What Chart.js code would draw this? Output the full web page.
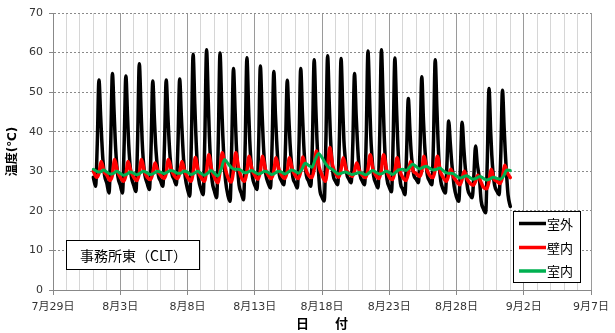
<!DOCTYPE html>
<html><head><meta charset="utf-8">
<script src="https://cdn.jsdelivr.net/npm/chart.js@4.4.1/dist/chart.umd.min.js"></script>
<style>html,body{margin:0;padding:0;background:#fff;}</style>
</head><body>
<canvas id="c" width="615" height="333"></canvas>
<script>
// x axis: day index, 0 = 7月29日 ; major tick every 5 days
const X_TICK_LABELS = ['7月29日','8月3日','8月8日','8月13日','8月18日','8月23日','8月28日','9月2日','9月7日'];
const Y_TICKS = [0,10,20,30,40,50,60,70];
const SERIES_NAMES = ['室外','壁内','室内'];
const ANNOTATION = '事務所東（CLT）';
const FIRST_DAY = 3; // 8月1日
// 室外 : readings per day (8/1 .. 8/31) at these hours
const HOURS_OUT = [0,4,7,10,13,15,17,20];
const outdoor = [
 [28.5,26.2,37,53.1,44,38,33,29],
 [27,24.5,37,54.7,45,38,33,28.5],
 [26.5,24.5,37,54.1,44,37,32.5,28.5],
 [26.5,24.9,38,57.2,46,38,33,29],
 [27,25.4,36,52.8,43,37,33,29],
 [27.5,26.2,37,53.1,44,38,33.5,29.5],
 [28,26.6,37,53.3,44,38,33,28.5],
 [25.5,23.7,38,59.6,47,39,33,28],
 [25.5,24.1,39,60.7,48,39,33,27.5],
 [25,23.3,38,59.9,47,39,33,27.5],
 [24,22.4,37,56,45,37,32,26.5],
 [24.5,22.8,37,58.7,46,38,33,28.5],
 [26.5,25.4,37,56.6,45,38,33,29],
 [27,25.8,37,55.2,44,38,33,29],
 [27.5,26.6,37,53,43,37,33,28.5],
 [27,25.8,37,56,45,38,33,29],
 [27.5,26.2,38,58.2,46,38,32,25.5],
 [23.5,22.5,38,59.2,47,39,34,29],
 [27.5,26.6,38,58.5,46,38,34,29.5],
 [28,27.1,37,54.7,44,38,33,29],
 [27.5,26.6,39,60.4,48,39,34,29],
 [27,25.8,39,60.7,48,39,33,28],
 [26,24.8,38,58.6,46,38,32,27],
 [25.5,24.1,35,48.4,40,35,32,29],
 [28,27.1,36,53.9,43,37,33,29],
 [27.5,26.6,38,58.2,46,38,32,27.5],
 [25.5,24.5,32,42.7,37,33,30,26],
 [23.5,22.4,31,42.4,36,32,29,25.5],
 [24,23.3,29,36.4,32,30,28,22.5],
 [20.5,19.5,33,50.9,40,34,30,26.5],
 [25,24.1,34,50.5,41,35,30,24]
];
// 壁内
const HOURS_WALL = [0,6,10,14,19];
const wall = [
 [30,28.5,29.5,32.5,30],
 [29,27.7,29,33,30],
 [28.5,27.5,29,32.5,30],
 [28.5,27.7,29.5,33,30],
 [28.5,27.9,29.5,32.1,30],
 [29,28.2,29.5,33,30.5],
 [29,28.2,29.5,32.5,30],
 [28.5,27.5,29.5,33.5,30],
 [28.5,27.5,30,34.2,30.5],
 [28.5,27.1,30,34.7,31],
 [28.5,27.3,30,34.7,31],
 [28.5,27.5,30,33.8,30.5],
 [29,28,30,33.8,30.5],
 [29,28.2,30,33.4,30.5],
 [29,28.2,30,33.4,30.5],
 [29,28.2,30,33.6,30.5],
 [29,28.4,30.5,35.1,31],
 [29,27.5,31,36,31.5],
 [29.5,28.5,30.5,33.4,30.5],
 [29.5,28.7,30,32.1,30],
 [29,28.4,30.5,34.2,30.5],
 [29,28.2,30.5,34.2,30.5],
 [28.5,27.9,30,33.4,30],
 [28.5,27.7,29.5,32.5,30],
 [29.5,28.7,30,33.8,30.5],
 [29,28.4,30.5,33.8,30],
 [28.5,27.5,29,30.5,28.5],
 [27.5,26.6,28,30,28],
 [27,26.5,27.5,29,27.5],
 [26,25.6,27.5,30.5,28],
 [27.5,26.9,28.5,31.5,29.5]
];
// 室内
const HOURS_ROOM = [0,6,12,18];
const room = [
 [30.5,30,29.8,30.3],
 [29.8,29.3,29.5,30],
 [29.5,29,29.3,29.8],
 [29.5,29.1,29.6,30],
 [29.6,29.2,29.5,30],
 [29.8,29.4,29.8,30.2],
 [30,29.5,29.5,30.1],
 [29.8,29.2,29.5,30],
 [29.5,29,29.5,30.2],
 [29.5,28.8,30.5,33],
 [32,31,30.5,30.5],
 [30.2,29.6,29.8,30.2],
 [29.8,29.3,29.6,30],
 [29.7,29.2,29.5,30],
 [29.8,29.3,29.8,30.3],
 [30,29.5,30.5,32],
 [31.5,31,33,34.5],
 [33.5,32,31,30.5],
 [29.8,29.3,29.6,29.8],
 [29.5,29.2,29.4,29.7],
 [29.5,29.1,29.6,30.2],
 [29.8,29.3,29.5,30],
 [29.7,29.2,29.8,30.4],
 [30.5,30.2,31,31.8],
 [31.2,30.6,31,31.3],
 [30.8,30.3,30.5,30.8],
 [30.2,29.6,29.5,29.4],
 [28.8,28.3,28.6,28.9],
 [28.4,28,28.3,28.7],
 [28.2,27.8,28.1,28.5],
 [28.2,28,28.8,30.3]
];
// last reading, 9月1日 0:00 : 室外, 壁内, 室内
const FINAL_VALUES = [21.1, 28.4, 30.2];

function toPoints(rows, hours, last){
  const pts = [];
  rows.forEach((row, d) => row.forEach((v, i) => pts.push({x: FIRST_DAY + d + hours[i]/24, y: v})));
  pts.push({x: FIRST_DAY + rows.length, y: last});
  return pts;
}

const COLORS = ['#000000','#ff0000','#00b050'];
const FONT = '"DejaVu Sans", "Noto Sans CJK JP", sans-serif';

const boxesPlugin = {
  id: 'boxes',
  afterDraw(chart){
    const {ctx, chartArea: a} = chart;
    ctx.save();
    // annotation box
    const bx = a.left + 13, by = a.top + 227, bw = 133, bh = 29;
    ctx.fillStyle = '#fff'; ctx.fillRect(bx, by, bw, bh);
    ctx.strokeStyle = '#000'; ctx.lineWidth = 1; ctx.strokeRect(bx + 0.5, by + 0.5, bw, bh);
    ctx.fillStyle = '#000'; ctx.font = '14px "Noto Sans CJK JP", sans-serif';
    ctx.textAlign = 'center'; ctx.textBaseline = 'middle';
    ctx.fillText(ANNOTATION, bx + bw/2 + 1, by + bh/2 + 1);
    // legend box
    const lx = a.right - 78, ly = a.top + 198, lw = 67, lh = 71;
    ctx.fillStyle = '#fff'; ctx.fillRect(lx, ly, lw, lh);
    ctx.strokeStyle = '#000'; ctx.strokeRect(lx + 0.5, ly + 0.5, lw, lh);
    ctx.font = '13px "Noto Sans CJK JP", sans-serif';
    ctx.textAlign = 'left';
    const rowsY = [12.5, 36.5, 60];
    chart.data.datasets.forEach((ds, i) => {
      const yy = ly + rowsY[i];
      ctx.strokeStyle = ds.borderColor; ctx.lineWidth = 3.5;
      ctx.beginPath(); ctx.moveTo(lx + 6, yy); ctx.lineTo(lx + 33, yy); ctx.stroke();
      ctx.fillStyle = '#000';
      ctx.fillText(ds.label, lx + 34, yy + 0.5);
    });
    ctx.restore();
  }
};

new Chart(document.getElementById('c'), {
  type: 'line',
  data: {
    datasets: [
      {label: SERIES_NAMES[0], data: toPoints(outdoor, HOURS_OUT, FINAL_VALUES[0]), borderColor: COLORS[0], borderWidth: 3.5, order: 3},
      {label: SERIES_NAMES[1], data: toPoints(wall, HOURS_WALL, FINAL_VALUES[1]), borderColor: COLORS[1], borderWidth: 3.5, order: 2},
      {label: SERIES_NAMES[2], data: toPoints(room, HOURS_ROOM, FINAL_VALUES[2]), borderColor: COLORS[2], borderWidth: 3, order: 1}
    ]
  },
  options: {
    responsive: false, animation: false, devicePixelRatio: 1,
    layout: {padding: {top: 13, right: 21, left: 0, bottom: 0}},
    plugins: {legend: {display: false}, tooltip: {enabled: false}},
    elements: {point: {radius: 0}, line: {cubicInterpolationMode: 'monotone', borderJoinStyle: 'round', borderCapStyle: 'round', fill: false}},
    scales: {
      x: {
        type: 'linear', min: 0, max: 40,
        afterFit: s => { s.height = 43; },
        ticks: {stepSize: 1, autoSkip: false, maxRotation: 0, padding: 6, color: '#333',
          font: {family: FONT, size: 11},
          callback: v => (v % 5 === 0 ? X_TICK_LABELS[v / 5] : '')},
        grid: {
          color: c => (c.tick && c.tick.value % 5 === 0 ? '#9a9a9a' : '#d6d6d6'),
          tickColor: c => (c.tick && c.tick.value % 5 === 0 ? '#888' : 'rgba(0,0,0,0)'),
          tickLength: 5, lineWidth: 1
        },
        border: {color: '#888', width: 1},
        title: {display: true, text: '日　　付', color: '#000', font: {family: FONT, size: 13, weight: 'bold'}, padding: {top: 0, bottom: 1}}
      },
      y: {
        min: 0, max: 70,
        afterFit: s => { s.width = 53; },
        afterBuildTicks: s => { s.ticks = Y_TICKS.map(v => ({value: v})); },
        ticks: {color: '#333', padding: 6, font: {family: FONT, size: 11}},
        grid: {color: '#8a8a8a', tickColor: '#888', tickLength: 4, lineWidth: 1},
        border: {color: '#888', width: 1, dash: [2, 2]},
        title: {display: true, text: '温度(℃)', color: '#000', font: {family: FONT, size: 12, weight: 'bold'}, padding: {top: 6, bottom: 0}}
      }
    }
  },
  plugins: [boxesPlugin]
});
</script>
</body></html>
